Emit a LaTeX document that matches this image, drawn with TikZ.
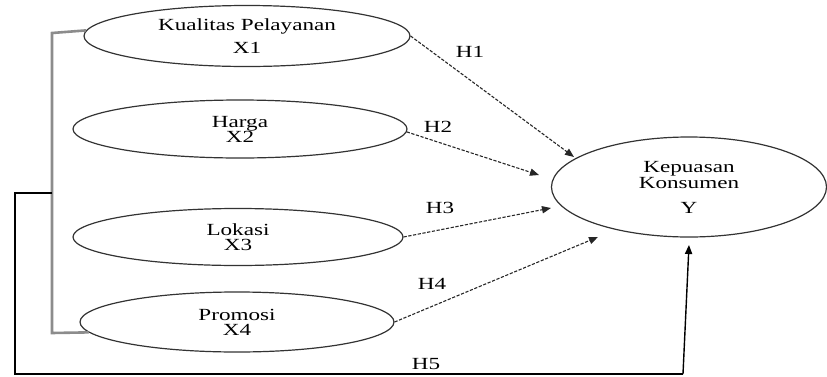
\documentclass[tikz,border=0pt]{standalone}
\usepackage{fontspec}
\setmainfont{Liberation Serif}
\newfontfamily\labfont[FakeStretch=1.36]{Liberation Serif}
\usetikzlibrary{shapes.geometric,arrows.meta}
\begin{document}
\begin{tikzpicture}[x=0.5pt,y=-0.5pt,
  var/.style={ellipse,draw=black!80,line width=0.6pt,inner sep=0pt,align=center,
    font=\labfont\fontsize{8.5}{7.5}\selectfont},
  hyp/.style={draw=black!85,line width=0.55pt,dash pattern=on 1.6pt off 0.8pt,
    -{Triangle[length=4.5pt,width=3.6pt]}},
  lab/.style={font=\labfont\fontsize{8.5}{10}\selectfont,inner sep=0pt},
  brk/.style={draw=black!45,line width=1.3pt},
  outer/.style={draw=black,line width=0.7pt}]
\useasboundingbox (0,0) rectangle (827,376);
\node[var,minimum width=163pt,minimum height=30.5pt] (x1) at (247,36) {Kualitas Pelayanan\\[4pt]X1};
\node[var,minimum width=167pt,minimum height=29pt] (x2) at (240,129) {Harga\\X2};
\node[var,minimum width=165pt,minimum height=28.5pt] (x3) at (238,237) {Lokasi\\X3};
\node[var,minimum width=157pt,minimum height=30pt] (x4) at (237,322) {Promosi\\X4};
\node[var,minimum width=137.5pt,minimum height=50pt] (y) at (689,187) {Kepuasan\\[0.5pt]Konsumen\\[5pt]Y};
% targets
\coordinate (t1) at (574,157);
\coordinate (t2) at (539,175);
\coordinate (t3) at (551,208);
\coordinate (t4) at (598,237);
\draw[hyp] (x1.east) -- (t1);
\draw[hyp] (x2.-1.4) -- (t2);
\draw[hyp] (x3.east) -- (t3);
\draw[hyp] (x4.east) -- (t4);
\node[lab] (h1) at (470,52) {H1};
\node[lab] (h2) at (438,127) {H2};
\node[lab] (h3) at (440,208) {H3};
\node[lab] (h4) at (432,284) {H4};
\node[lab] (h5) at (426,364) {H5};
% inner bracket
\coordinate (b1) at (52,33);
\coordinate (b2) at (52,333);
\draw[brk] (x1.178) -- (b1) -- (b2) -- (x4.184);
% outer bracket with H5
\coordinate (o0) at (52,193);
\coordinate (o1) at (15,193);
\coordinate (o2) at (15,374);
\coordinate (o3) at (683,374);
\coordinate (t5) at (689,245);
\draw[outer] (o0) -- (o1) -- (o2) -- (o3);
\draw[outer,-{Triangle[length=4.5pt,width=3.6pt]}] (o3) -- (t5);
\end{tikzpicture}
\end{document}
